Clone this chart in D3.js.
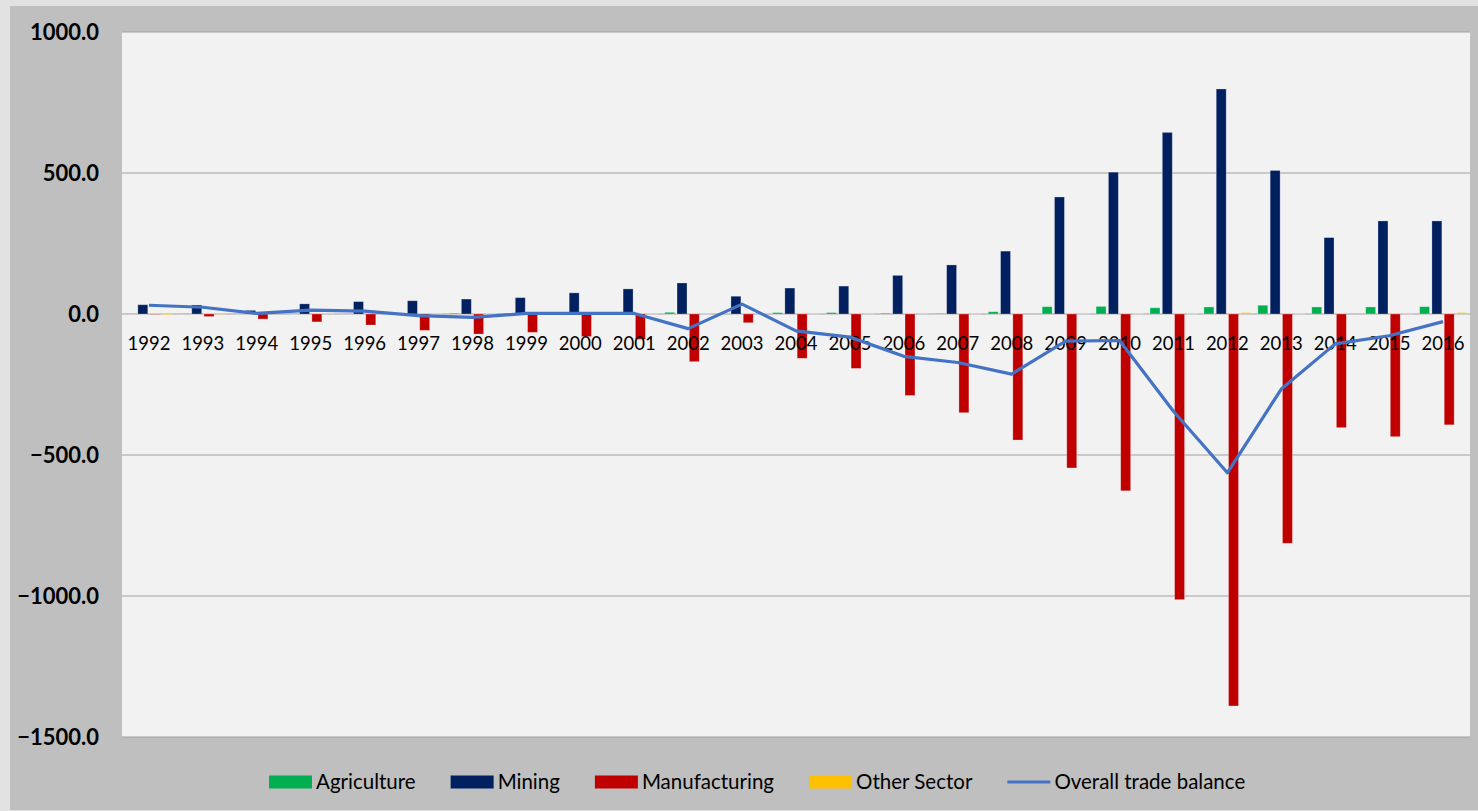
<!DOCTYPE html>
<html>
<head>
<meta charset="utf-8">
<script src="https://cdn.jsdelivr.net/npm/d3@7/dist/d3.min.js"></script>
<style>
  html, body { margin: 0; padding: 0; background: #e2e2e2; }
  svg { display: block; }
  text { font-family: Lato, "Open Sans", "Liberation Sans", sans-serif; fill: #000; }
</style>
</head>
<body>
<svg id="chart" width="1478" height="811"></svg>
<script>
// Trade balance by sector, 1992–2016
const years = ["1992","1993","1994","1995","1996","1997","1998","1999","2000","2001","2002","2003","2004",
               "2005","2006","2007","2008","2009","2010","2011","2012","2013","2014","2015","2016"];

const agriculture   = [1, 1, 1, 1, 1, 2, 3, 2, 2, 3, 6, 1, 5, 5, 3, 2, 8, 26, 27, 22, 25, 31, 25, 25, 26];
const mining        = [33, 32, 13, 36, 44, 47, 53, 58, 75, 89, 110, 63, 92, 99, 137, 174, 223, 415, 503, 644, 798, 509, 271, 330, 330];
const manufacturing = [-1, -9, -18, -28, -39, -58, -71, -65, -80, -90, -169, -31, -157, -193, -289, -350, -447, -546, -627, -1013, -1390, -813, -403, -435, -393];
const otherSector   = [-2, -1, 0, 1, 1, 1, 2, 1, 1, 1, 1, 1, 1, 1, 1, 1, 0, 3, 2, 2, 5, 2, 0, 3, 5];
const tradeBalance  = [31, 24, 2, 14, 10, -6, -12, 2, 2, 2, -52, 35, -60, -82, -150, -172, -213, -96, -94, -345, -563, -266, -106, -77, -27];

const yTicks = [1000, 500, 0, -500, -1000, -1500];

const seriesNames  = ["Agriculture", "Mining", "Manufacturing", "Other Sector"];
const seriesValues = [agriculture, mining, manufacturing, otherSector];
const seriesColors = ["#00B050", "#002060", "#C00000", "#FFC000"];
const lineName  = "Overall trade balance";
const lineColor = "#4472C4";

const svg = d3.select("#chart");
const W = 1478, H = 811;
const plot = { left: 122, right: 1470, top: 32, bottom: 737 };

// backgrounds
svg.append("rect").attr("x", 0).attr("y", 0).attr("width", W).attr("height", H).attr("fill", "#e2e2e2");
svg.append("rect").attr("x", 10).attr("y", 6).attr("width", W - 10).attr("height", 804).attr("fill", "#bfbfbf");
svg.append("rect").attr("x", plot.left).attr("y", plot.top)
   .attr("width", plot.right - plot.left).attr("height", plot.bottom - plot.top).attr("fill", "#f2f2f2");

// scales
const x = d3.scaleBand().domain(years).range([plot.left, plot.right]).paddingInner(0).paddingOuter(0);
const x1 = d3.scaleBand().domain(seriesNames).range([0, x.bandwidth()]).paddingInner(0.19).paddingOuter(0.287);
const y = d3.scaleLinear().domain([-1500, 1000]).range([plot.bottom, plot.top]);

// gridlines
svg.append("g").selectAll("line").data(yTicks).join("line")
   .attr("x1", plot.left).attr("x2", plot.right)
   .attr("y1", d => y(d)).attr("y2", d => y(d))
   .attr("stroke", "#a0a0a0").attr("stroke-width", 1.2);

// y-axis labels
svg.append("g").selectAll("text").data(yTicks).join("text")
   .attr("x", 99).attr("y", d => y(d) + 7.8)
   .attr("text-anchor", "end")
   .style("font-size", "22px").style("font-weight", "bold")
   .text(d => d3.format(".1f")(d));

// bars
const barRows = [];
seriesNames.forEach((name, si) => {
  years.forEach((yr, i) => barRows.push({ name, yr, v: seriesValues[si][i], color: seriesColors[si] }));
});
svg.append("g").selectAll("rect").data(barRows).join("rect")
   .attr("x", d => x(d.yr) + x1(d.name))
   .attr("width", x1.bandwidth())
   .attr("y", d => y(Math.max(0, d.v)))
   .attr("height", d => Math.abs(y(d.v) - y(0)))
   .attr("fill", d => d.color)
   .attr("stroke", "rgba(255,255,255,0.35)").attr("stroke-width", 0.8);

// category labels
svg.append("g").selectAll("text").data(years).join("text")
   .attr("x", d => x(d) + x.bandwidth() / 2).attr("y", 349.5)
   .attr("text-anchor", "middle")
   .style("font-size", "18.5px")
   .text(d => d);

// overall balance line
const line = d3.line().x((d, i) => x(years[i]) + x.bandwidth() / 2).y(d => y(d));
svg.append("path").datum(tradeBalance)
   .attr("d", line).attr("fill", "none")
   .attr("stroke", lineColor).attr("stroke-width", 3.2).attr("stroke-linejoin", "round");

// legend
const legend = svg.append("g");
const legendItems = seriesNames.map((n, i) => ({ name: n, color: seriesColors[i], type: "bar" }))
  .concat([{ name: lineName, color: lineColor, type: "line" }]);
let lx = 269;
const ly = 782;
legendItems.forEach(item => {
  if (item.type === "bar") {
    legend.append("rect").attr("x", lx).attr("y", ly - 6.5).attr("width", 43).attr("height", 13).attr("fill", item.color);
  } else {
    legend.append("line").attr("x1", lx).attr("x2", lx + 43).attr("y1", ly).attr("y2", ly)
      .attr("stroke", item.color).attr("stroke-width", 3.2);
  }
  const t = legend.append("text").attr("x", lx + 47).attr("y", ly + 7)
      .style("font-size", "20.5px").text(item.name);
  lx += 47 + t.node().getComputedTextLength() + 35;
});
</script>
</body>
</html>
